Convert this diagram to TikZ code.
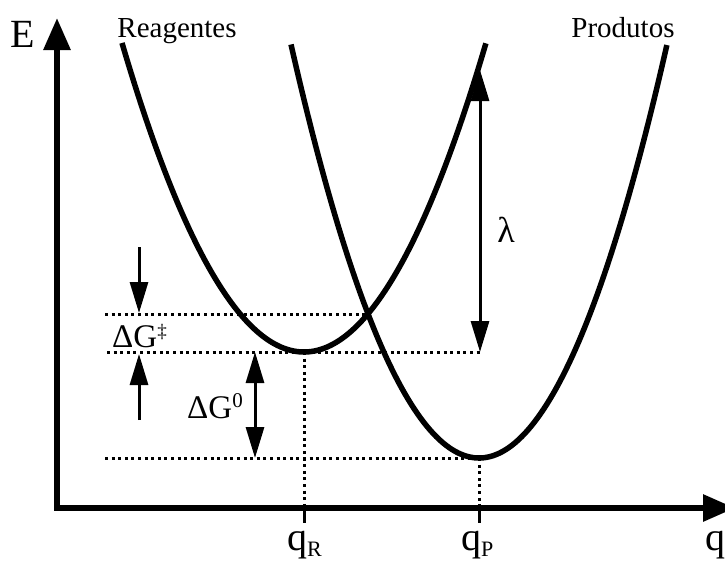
\documentclass[tikz,border=0pt]{standalone}
\usepackage{fontspec}
\setmainfont{Liberation Serif}
\usetikzlibrary{arrows.meta}
\begin{document}
\begin{tikzpicture}[x=1pt,y=-1pt,
  axis/.style={line width=6pt, line join=miter},
  curve/.style={line width=5.5pt},
  thinarrow/.style={line width=3pt},
  dotline/.style={line width=3pt, dash pattern=on 3pt off 3.6pt},
  tick/.style={line width=3pt},
  lbl/.style={inner sep=0pt, font=\fontsize{29}{29}\selectfont},
  dlbl/.style={inner sep=0pt, font=\fontsize{33}{33}\selectfont},
  big/.style={inner sep=0pt, font=\fontsize{40}{40}\selectfont},
  tipA/.tip={Triangle[length=31pt,width=18pt]},
  tipX/.tip={Triangle[length=32pt,width=26pt]},
]
\useasboundingbox (0,0) rectangle (725,563);
% axes
\coordinate (ytop) at (57,18);
\coordinate (corner) at (57,508);
\coordinate (xend) at (735,508);
\draw[axis, tipX-tipX] (ytop) -- (corner) -- (xend);
% parabolas
\draw[curve] plot[domain=-1.82:1.82, samples=120] ({304+100*\x}, {352-93.3*\x*\x});
\draw[curve] plot[domain=-1.88:1.88, samples=120] ({479+100*\x}, {458-117*\x*\x});
% key points
\coordinate (cross) at (368,314);
\coordinate (minR) at (304,352);
\coordinate (minP) at (479,458);
\coordinate (d1) at (105,314);
\coordinate (d2) at (107,352);
\coordinate (d3) at (105,458);
\coordinate (lamtop) at (480,70);
\coordinate (lambot) at (480,352);
\coordinate (axR) at (304,505);
\coordinate (axP) at (479,505);
\coordinate (tR1) at (304,511);
\coordinate (tR2) at (304,523);
\coordinate (tP1) at (479,511);
\coordinate (tP2) at (479,523);
% dotted lines
\draw[dotline] (d1) -- (cross);
\draw[dotline] (d2) -- (lambot);
\draw[dotline] (d3) -- (minP);
\draw[dotline] (minR) -- (axR);
\draw[dotline] (minP) -- (axP);
\draw[tick] (tR1) -- (tR2);
\draw[tick] (tP1) -- (tP2);
% arrows
\coordinate (a1s) at (139,247);
\coordinate (a1e) at (139,313);
\coordinate (a2s) at (139,420);
\coordinate (a2e) at (139,354);
\coordinate (g0t) at (255,352);
\coordinate (g0b) at (255,458);
\draw[thinarrow, -tipA] (a1s) -- (a1e);
\draw[thinarrow, -tipA] (a2s) -- (a2e);
\draw[thinarrow, tipA-tipA] (g0t) -- (g0b);
\draw[thinarrow, tipA-tipA] (lamtop) -- (lambot);
% labels
\node[big] (E) at (23,34) {E};
\node[lbl, anchor=base] (reag) at (177,37) {Reagentes};
\node[lbl, anchor=base] (prod) at (623,37) {Produtos};
\node[big, anchor=base west] (q) at (705,550) {q};
\node[big, anchor=base west] (qR) at (287,550) {q\raisebox{-6pt}{\fontsize{22}{22}\selectfont R}};
\node[big, anchor=base west] (qP) at (461,550) {q\raisebox{-6pt}{\fontsize{22}{22}\selectfont P}};
\node[dlbl, anchor=base west] (dgd) at (112,347) {ΔG\raisebox{10pt}{\fontsize{19}{19}\selectfont ‡}};
\node[dlbl, anchor=base west] (dg0) at (187,418) {ΔG\raisebox{11pt}{\fontsize{21}{21}\selectfont 0}};
\node[inner sep=0pt, font=\fontsize{36}{36}\selectfont] (lam) at (506,230) {λ};
\end{tikzpicture}
\end{document}
